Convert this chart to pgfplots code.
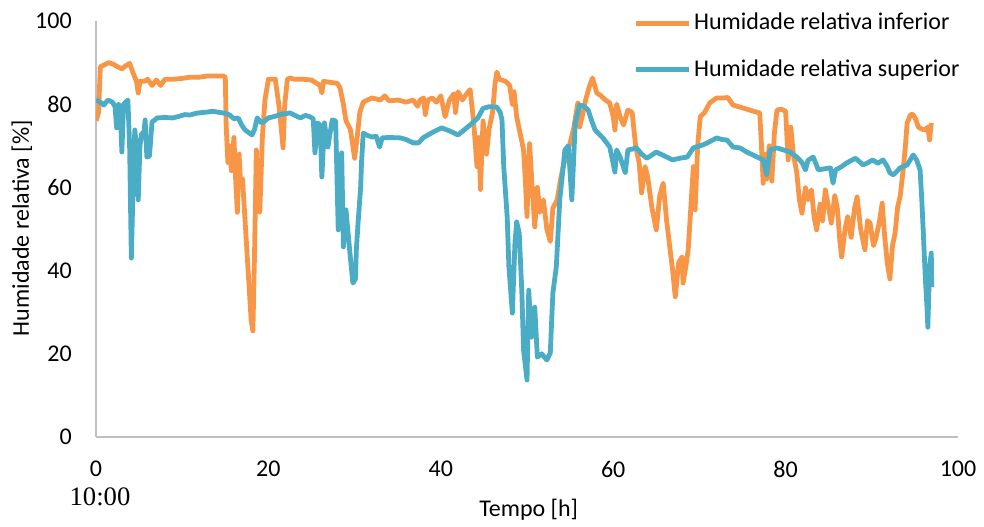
\documentclass[border=0pt]{standalone}
\usepackage{pgfplots}
\pgfplotsset{compat=1.18}
\usetikzlibrary{calc}
\usepackage{fontspec}
\setmainfont{Carlito}
\newfontfamily\timesf{Liberation Serif}
\definecolor{orangeHR}{HTML}{F79646}
\definecolor{blueHR}{HTML}{4BACC6}
\definecolor{axgray}{HTML}{BFBFBF}
\begin{document}
\fontsize{18}{22}\selectfont
\begin{tikzpicture}
\begin{axis}[name=ax, scale only axis, width=646.5pt, height=312pt,
  xmin=0, xmax=100, ymin=0, ymax=100,
  axis x line*=bottom, axis y line*=left,
  axis line style={axgray, line width=1.2pt, -},
  xtick={0,20,...,100}, ytick={0,20,...,100},
  major tick length=0pt, tick style={draw=none},
  /pgf/number format/assume math mode=true,
  tick label style={font=\fontsize{18}{22}\selectfont},
  xticklabel style={yshift=-12pt},
  yticklabel style={xshift=-12pt},
  xlabel={Tempo [h]}, ylabel={Humidade relativa [\%]},
  label style={font=\fontsize{18}{22}\selectfont},
  xlabel style={at={(axis description cs:0.502,-0.174)}, anchor=center},
  ylabel style={at={(axis description cs:-0.086,0.502)}, anchor=center},
  legend style={at={(axis description cs:0.623,0.9387)}, anchor=west, draw=none, fill=none, inner sep=0pt,
    font=\fontsize{18}{22}\selectfont, row sep=15.75pt, nodes={inner sep=2pt}},
  legend cell align=left,
  legend image code/.code={\draw[#1] (0pt,0pt) -- (40pt,0pt);},
  line join=round,
]
\addplot[orangeHR, line width=3.6pt] coordinates {
(0,76) (0.3,78) (0.5,89) (1,89.5) (1.5,90) (2,89.6) (2.5,89) (3,88.5) (3.5,89.3) (3.9,89.8) (4.3,87.5) (4.7,85.5) (4.9,82.7) (5.1,85.5) (5.6,85.5) (6,86) (6.5,84.5) (7,85.8) (7.5,84.5) (8,86) (9,86) (10,86.2) (11,86.5) (12,86.5) (13,86.8) (14,86.8) (14.7,86.8) (15,86.5) (15.1,75) (15.3,66) (15.5,70) (15.7,64) (16,72) (16.2,62) (16.4,54) (16.6,68) (16.8,60) (17,62) (17.5,45) (18,28) (18.2,25.5) (18.4,45) (18.6,69) (18.8,55) (19,54) (19.3,72) (19.6,81) (20,86) (20.4,86) (20.8,86) (21.2,80) (21.5,74) (21.7,69.5) (21.9,80) (22.2,86) (22.5,86.3) (23,86) (24,86) (25,85.8) (26,84.5) (26.2,82.7) (26.4,85.5) (27,85.3) (28,85) (28.3,84) (28.7,80) (29,76) (29.5,74) (29.8,70) (30,67) (30.3,72) (30.6,78) (31,80.5) (32,81.5) (33,81) (33.5,82) (34,80.8) (35,81) (36,80.5) (36.8,81) (37.3,79.5) (37.6,81) (38,81.5) (38.2,77.5) (38.5,81) (39,81.5) (39.5,80.5) (40,82) (40.5,77) (41,81) (41.5,82.5) (41.7,78) (42,83) (42.5,81) (43,82.5) (43.4,83.5) (43.8,76) (44.2,65) (44.4,72) (44.6,59.5) (44.9,76) (45.3,68) (45.6,74) (46,78) (46.3,85) (46.5,87.7) (46.8,86) (47.5,85.5) (48,84.5) (48.3,80) (48.5,83) (48.8,77) (49.2,73) (49.6,69) (49.8,62) (50,53) (50.2,66) (50.3,70.5) (50.6,60) (50.9,50.5) (51.2,60) (51.5,54) (51.9,57) (52.3,50) (52.7,47) (53,55) (53.5,57) (53.9,62) (54.2,65) (54.6,68) (55,70.7) (55.4,74) (55.9,80.3) (56.1,74.5) (56.4,77) (56.8,81) (57.2,84) (57.6,86.3) (58.1,82.7) (58.6,82) (59.1,81) (59.6,80.3) (60,77) (60.2,73.8) (60.4,80) (60.8,77) (61.2,75) (61.7,78.6) (62.2,78) (62.6,70) (63,66) (63.3,58.7) (63.7,65) (64,62.5) (64.5,55) (65,49.8) (65.4,58) (65.8,61) (66.2,52) (66.6,45) (66.9,40) (67.2,33.7) (67.6,42) (68,43.3) (68.1,37) (68.5,42) (68.7,45) (69,55) (69.3,65) (69.5,54.6) (69.8,70) (70.1,77) (70.6,78) (71.2,80.3) (72,81.5) (72.8,81.5) (73.3,81.6) (73.9,79.8) (74.7,79.3) (75.5,78.8) (76.3,78.3) (77,77.9) (77.2,70) (77.4,61) (77.6,68) (77.8,62) (78.1,70) (78.4,61.5) (78.7,73) (79,78.6) (79.5,78.8) (80,78.3) (80.3,66.6) (80.6,74.5) (80.9,68) (81.3,63.5) (81.6,57) (81.9,53.8) (82.3,60) (82.6,57) (83,59.4) (83.3,53) (83.6,49.8) (84,56) (84.3,52) (84.6,59.4) (85,55) (85.3,51.4) (85.7,58) (86,55) (86.3,47) (86.5,43.3) (86.9,50) (87.2,53) (87.6,48) (88,55) (88.3,57.7) (88.7,50) (89.2,45) (89.5,52) (89.8,51.4) (90.2,46) (90.5,48) (90.9,52) (91.2,56.2) (91.5,48) (91.8,41.8) (92.1,38) (92.4,46) (92.7,49) (93,55.3) (93.3,58) (93.6,63.5) (93.9,70) (94.1,75.5) (94.5,77.5) (94.8,77.5) (95.1,76.3) (95.4,74.5) (95.8,74) (96.2,73.8) (96.5,74.5) (96.7,71.4) (96.9,75.5)
};
\addlegendentry{Humidade relativa inferior}
\addplot[blueHR, line width=3.6pt] coordinates {
(0,81) (0.5,80.5) (0.9,79.8) (1.4,81) (1.9,80.5) (2.2,79.5) (2.4,74.3) (2.6,80) (2.8,79.5) (3,68.5) (3.2,80) (3.7,81) (3.9,70) (4.1,43) (4.3,60) (4.5,73.8) (4.7,70) (4.9,57) (5.1,70) (5.3,73) (5.5,72) (5.7,76.2) (5.9,67.3) (6.2,67.5) (6.5,75.7) (7.1,76.7) (8,76.8) (8.9,76.7) (9.5,77) (10.3,77.5) (10.9,77.4) (11.6,77.8) (12.3,78) (12.9,78.1) (13.5,78.3) (14.4,78) (15,77.8) (15.5,77.4) (16,76.5) (16.5,76.7) (16.9,75) (17.3,73.8) (18.1,72.6) (18.4,74) (18.7,76.7) (19.2,75.5) (19.6,76) (20,76.7) (20.6,77) (21.4,77.5) (22.5,77.9) (23.2,77.2) (23.7,76.7) (24.3,77.3) (24.8,77) (25.2,76.5) (25.4,68.3) (25.7,75.5) (26,75) (26.2,62.5) (26.5,75.5) (26.9,69.7) (27.4,76.2) (27.8,76) (28.1,49.8) (28.3,66) (28.5,68.3) (28.7,45.7) (29,54.6) (29.2,50) (29.5,43.3) (29.8,37) (30.1,38) (30.2,45) (30.4,51.4) (30.7,60) (30.8,65.9) (31,73) (31.5,72.5) (32,72.1) (32.5,72.3) (32.9,69.7) (33.2,71.9) (34,72) (35.3,71.9) (36,71.5) (36.8,70.7) (37.4,70.7) (38,72) (38.5,72.6) (39.3,73.5) (40.1,74.3) (41,73.6) (42,72.6) (42.7,73.8) (43.4,75) (44.3,76.7) (44.9,79) (45.6,79.4) (46.5,79.3) (46.9,78) (47.1,76.2) (47.3,65) (47.7,53) (47.9,40.9) (48.3,29.8) (48.6,46.6) (48.8,51.7) (49.1,49) (49.4,35) (49.6,20.9) (50,13.7) (50.2,35.3) (50.5,24) (50.9,31.2) (51.2,19.2) (51.7,20) (52.3,18.5) (52.7,20.2) (53,34.6) (53.4,40.9) (53.8,57) (54.4,69) (54.8,70) (55.2,57) (55.6,75.5) (56.1,79.8) (56.6,79.5) (57.1,78.6) (57.5,76) (57.9,73.8) (58.8,71.9) (59.6,69.7) (60.2,63.7) (60.4,69) (60.8,67.3) (61.4,63.5) (61.7,69) (62.2,69.2) (62.7,69.5) (63.3,68) (63.9,67) (64.5,67.8) (65,68.5) (66,67.5) (66.9,66.6) (67.7,67) (68.6,67.3) (69.3,69.5) (70.4,70.2) (71.2,71) (72,71.9) (72.6,71.5) (73.2,71.4) (73.9,69.7) (74.7,69.5) (75.5,68.5) (76.7,67.3) (77.4,66.6) (77.8,63) (78.2,69) (79,69.5) (80.5,68.5) (81.3,67.3) (81.9,66) (82.3,64.2) (82.6,66.5) (83.2,67.3) (83.8,64.2) (84.6,64.5) (85.2,64.7) (85.5,61) (85.8,64.2) (86.5,65) (87.1,65.9) (88.1,67) (89,65.4) (89.6,66) (90.1,66.6) (90.7,65.8) (91.3,66.6) (91.8,65) (92.1,63.5) (92.5,63) (93.3,64.7) (94.1,65.4) (94.8,67.8) (95.2,66.6) (95.6,64.2) (95.8,57) (96,48) (96.2,38.5) (96.4,31.2) (96.5,26.4) (96.7,40.9) (96.9,44.2) (96.95,36)
};
\addlegendentry{Humidade relativa superior}
\end{axis}
\node[font=\timesf\fontsize{20}{24}\selectfont, anchor=center] at ($(ax.south west)+(3pt,-45pt)$) {10:00};
\pgfresetboundingbox
\path (ax.south west) ++(-72pt,-67.5pt) rectangle ++(738pt,395.25pt);
\end{tikzpicture}
\end{document}
